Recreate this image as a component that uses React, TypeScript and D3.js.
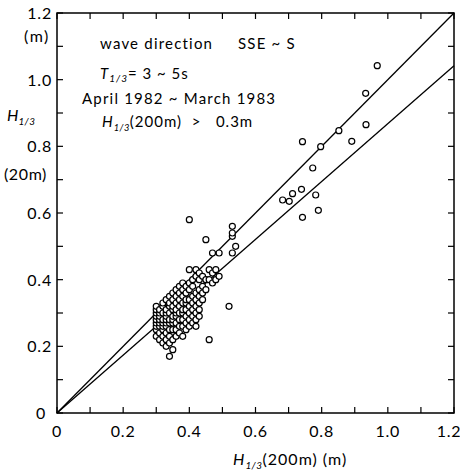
import React from "react";
import * as d3 from "d3";

// H1/3 at 200 m (x) vs H1/3 at 20 m (y)
const clusterColumns: [number, number[]][] = [
  [0.30, [0.23, 0.25, 0.26, 0.27, 0.28, 0.29, 0.30, 0.31, 0.32]],
  [0.31, [0.22, 0.24, 0.26, 0.27, 0.28, 0.29, 0.30, 0.31]],
  [0.32, [0.21, 0.23, 0.25, 0.26, 0.27, 0.28, 0.30, 0.32, 0.33]],
  [0.33, [0.20, 0.22, 0.24, 0.26, 0.27, 0.28, 0.29, 0.30, 0.31, 0.34]],
  [0.34, [0.17, 0.21, 0.23, 0.25, 0.27, 0.28, 0.30, 0.32, 0.33, 0.35]],
  [0.35, [0.19, 0.22, 0.25, 0.27, 0.28, 0.29, 0.31, 0.32, 0.34, 0.36]],
  [0.36, [0.23, 0.25, 0.27, 0.29, 0.30, 0.31, 0.33, 0.35, 0.37]],
  [0.37, [0.24, 0.26, 0.28, 0.30, 0.32, 0.34, 0.36, 0.38]],
  [0.38, [0.23, 0.26, 0.28, 0.30, 0.31, 0.33, 0.35, 0.37, 0.39]],
  [0.39, [0.25, 0.27, 0.29, 0.31, 0.33, 0.34, 0.36, 0.38]],
  [0.40, [0.26, 0.28, 0.30, 0.32, 0.34, 0.37, 0.39, 0.43, 0.58]],
  [0.41, [0.27, 0.29, 0.31, 0.33, 0.35, 0.38, 0.40]],
  [0.42, [0.26, 0.28, 0.30, 0.32, 0.34, 0.36, 0.41, 0.43]],
  [0.43, [0.29, 0.31, 0.33, 0.35, 0.37, 0.40, 0.42]],
  [0.44, [0.34, 0.36, 0.38, 0.41]],
  [0.45, [0.37, 0.40, 0.52]],
  [0.46, [0.22, 0.40, 0.43]],
  [0.47, [0.39, 0.42, 0.48]],
  [0.48, [0.40, 0.43]],
  [0.49, [0.41, 0.48]],
  [0.52, [0.32]],
  [0.53, [0.48, 0.53, 0.54, 0.56]],
  [0.54, [0.50]],
];

const upperPoints: [number, number][] = [
  [0.968, 1.042], [0.933, 0.959], [0.934, 0.865], [0.852, 0.847], [0.891, 0.815],
  [0.742, 0.814], [0.797, 0.799], [0.773, 0.735], [0.739, 0.671], [0.712, 0.658],
  [0.682, 0.639], [0.702, 0.635], [0.782, 0.654], [0.790, 0.608], [0.742, 0.587],
];

const lineSlopes = [1.0, 0.868];
const majorTicks = [0, 0.2, 0.4, 0.6, 0.8, 1.0, 1.2];
const minorTicks = d3.range(0, 13).map((i) => i / 10);

const W = 460, H = 474;
const FONT = "Lato, 'DejaVu Sans', sans-serif";

export default function App() {
  const x = d3.scaleLinear().domain([0, 1.2]).range([57, 454]);
  const y = d3.scaleLinear().domain([0, 1.2]).range([413, 13]);

  const points: [number, number][] = [];
  clusterColumns.forEach(([cx, ys]) => ys.forEach((cy) => points.push([cx, cy])));
  upperPoints.forEach((p) => points.push(p));

  const fmt = (v: number) => (v === 0 ? "0" : v.toFixed(1));
  const tl = 6;

  const H13 = (size: number) => [
    <tspan key="h" fontStyle="italic">H</tspan>,
    <tspan key="s" fontStyle="italic" fontSize={size * 0.62} dy={4} letterSpacing={0.5}>1/3</tspan>,
  ];

  return (
    <svg width={W} height={H} style={{ position: "absolute", left: 0, top: 0, background: "#fff" }}
      fontFamily={FONT}>
      <rect x={0} y={0} width={W} height={H} fill="#fff" />
      {/* frame */}
      <rect x={x(0)} y={y(1.2)} width={x(1.2) - x(0)} height={y(0) - y(1.2)}
        fill="none" stroke="#000" strokeWidth={1.5} />
      {/* ticks, inward on all sides */}
      {minorTicks.map((t) => (
        <g key={t} stroke="#000" strokeWidth={1.2}>
          <line x1={x(t)} x2={x(t)} y1={y(0)} y2={y(0) - tl} />
          <line x1={x(t)} x2={x(t)} y1={y(1.2)} y2={y(1.2) + tl} />
          <line x1={x(0)} x2={x(0) + tl} y1={y(t)} y2={y(t)} />
          <line x1={x(1.2)} x2={x(1.2) - tl} y1={y(t)} y2={y(t)} />
        </g>
      ))}
      {/* tick labels */}
      {majorTicks.map((t) => (
        <text key={"x" + t} x={t === 1.2 ? 449 : x(t)} y={437} textAnchor="middle" fontSize={16} letterSpacing={0.8}>{fmt(t)}</text>
      ))}
      {majorTicks.map((t) => (
        <text key={"y" + t} x={t === 0 ? 46 : 52} y={y(t) + 6} textAnchor="end" fontSize={16} letterSpacing={0.8}>{fmt(t)}</text>
      ))}
      {/* regression lines */}
      {lineSlopes.map((s) => (
        <line key={s} x1={x(0)} y1={y(0)} x2={x(1.2)} y2={y(1.2 * s)} stroke="#000" strokeWidth={1.3} />
      ))}
      {/* points */}
      {points.map(([px, py], i) => (
        <circle key={i} cx={x(px)} cy={y(py)} r={3} fill="#fff" stroke="#000" strokeWidth={1.2} />
      ))}
      {/* axis titles */}
      <text x={24} y={42} fontSize={16} letterSpacing={1.5}>(m)</text>
      <text x={7} y={121} fontSize={16}>{H13(16)}</text>
      <text x={4} y={180} fontSize={16} letterSpacing={0.6}>(20m)</text>
      <text x={233} y={465} fontSize={16} letterSpacing={1}>
        {H13(16)}<tspan dy={-4}>(200m) (m)</tspan>
      </text>
      {/* annotations */}
      <text x={100} y={49} fontSize={15} letterSpacing={1.2}>wave direction</text>
      <text x={238} y={49} fontSize={15} letterSpacing={1.2}>SSE ~ S</text>
      <text x={100} y={79} fontSize={15} letterSpacing={1}>
        <tspan fontStyle="italic">T</tspan>
        <tspan fontStyle="italic" fontSize={10} dy={3}>1/3</tspan>
        <tspan dy={-3}>= 3 ~ 5s</tspan>
      </text>
      <text x={82} y={104} fontSize={15} letterSpacing={1.2}>April 1982 ~ March 1983</text>
      <text x={102} y={127} fontSize={15} letterSpacing={1}>
        {H13(15)}<tspan dy={-4}>{"(200m)\u00a0\u00a0>\u00a0\u00a0\u00a00.3m"}</tspan>
      </text>
    </svg>
  );
}
